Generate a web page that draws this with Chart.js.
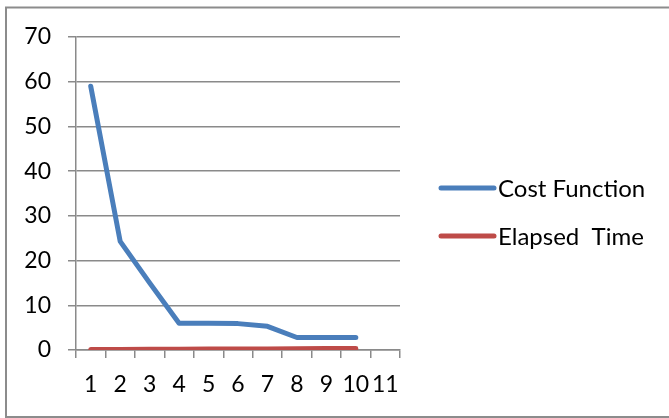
<!DOCTYPE html>
<html>
<head>
<meta charset="utf-8">
<script src="https://cdn.jsdelivr.net/npm/chart.js@4"></script>
<style>
  html, body { margin: 0; padding: 0; background: #fff; }
  #wrap { width: 669px; height: 418px; }
</style>
</head>
<body>
<div id="wrap"><canvas id="line" width="669" height="418"></canvas></div>
<script>
// data
var labels = ['1', '2', '3', '4', '5', '6', '7', '8', '9', '10', '11'];
var costFunction = [59, 24.3, 15, 6, 6, 5.9, 5.3, 2.8, 2.8, 2.8];
var elapsedTime = [0.1, 0.12, 0.15, 0.17, 0.2, 0.22, 0.25, 0.28, 0.32, 0.35];
var seriesNames = ['Cost Function', 'Elapsed  Time'];
var yTicks = [0, 10, 20, 30, 40, 50, 60, 70];

var fontFam = 'Lato, "Liberation Sans", sans-serif';
var gridColor = '#8a8a8a';

// rand om de grafiek + legenda rechts
var frameAndLegend = {
    id: 'frameAndLegend',
    afterDraw: function (chart) {
        var c = chart.ctx;
        c.save();
        c.strokeStyle = '#8c8c8c';
        c.lineWidth = 2;
        c.strokeRect(6, 7.5, 700, 409.5);

        var ys = [188, 236];
        chart.data.datasets.forEach(function (ds, i) {
            c.strokeStyle = ds.borderColor;
            c.lineWidth = 5;
            c.lineCap = 'round';
            c.beginPath();
            c.moveTo(441, ys[i]);
            c.lineTo(494, ys[i]);
            c.stroke();
            c.fillStyle = '#000';
            c.font = '24px ' + fontFam;
            c.textBaseline = 'middle';
            c.textAlign = 'left';
            c.fillText(ds.label, 498, ys[i] + 1);
        });
        c.restore();
    }
};

var ctx = document.getElementById('line').getContext('2d');
var lineChart = new Chart(ctx, {
    type: 'line',
    data: {
        labels: labels,
        datasets: [{
            label: seriesNames[0],
            data: costFunction,
            borderColor: '#4a7ebb',
            borderWidth: 5,
            borderCapStyle: 'round',
            borderJoinStyle: 'round',
            pointRadius: 0,
            tension: 0
        }, {
            label: seriesNames[1],
            data: elapsedTime,
            borderColor: '#be4b48',
            borderWidth: 5,
            borderCapStyle: 'round',
            borderJoinStyle: 'round',
            pointRadius: 0,
            tension: 0
        }]
    },
    options: {
        responsive: false,
        animation: false,
        layout: { padding: { left: 0, top: 37, right: 269, bottom: 0 } },
        plugins: {
            legend: { display: false },
            tooltip: { enabled: false }
        },
        scales: {
            x: {
                offset: true,
                grid: {
                    offset: true,
                    drawOnChartArea: false,
                    drawTicks: true,
                    tickLength: 8,
                    color: gridColor,
                    lineWidth: 1.5
                },
                border: { display: true, color: gridColor, width: 1.5 },
                ticks: {
                    color: '#000',
                    padding: 13,
                    maxRotation: 0,
                    autoSkip: false,
                    font: { family: fontFam, size: 23 }
                },
                afterFit: function (s) { s.height = 68; }
            },
            y: {
                min: 0,
                max: 70,
                afterBuildTicks: function (s) {
                    s.ticks = yTicks.map(function (v) { return { value: v }; });
                },
                grid: {
                    drawTicks: true,
                    tickLength: 8,
                    color: gridColor,
                    lineWidth: 1.5
                },
                border: { display: true, color: gridColor, width: 1.5 },
                ticks: {
                    color: '#000',
                    padding: 17,
                    font: { family: fontFam, size: 23 }
                },
                afterFit: function (s) { s.width = 76; }
            }
        }
    },
    plugins: [frameAndLegend]
});
</script>
</body>
</html>
